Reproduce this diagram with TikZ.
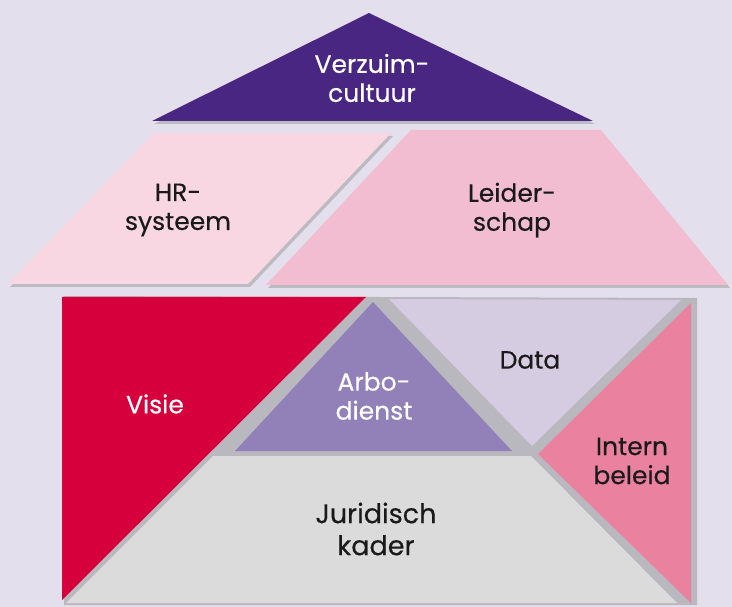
\documentclass[tikz,border=0pt]{standalone}
\usepackage{fontspec}
\setmainfont{Poppins}[FakeBold=0.4]
\usetikzlibrary{shadows}

\definecolor{bgc}{HTML}{E4DFEC}
\definecolor{gapc}{HTML}{B9B8BE}
\definecolor{vzc}{HTML}{4A2683}
\definecolor{hrc}{HTML}{F8D6E2}
\definecolor{ldc}{HTML}{F2BDD0}
\definecolor{vsc}{HTML}{D5003C}
\definecolor{abc}{HTML}{9280B9}
\definecolor{dtc}{HTML}{D5CCE2}
\definecolor{ibc}{HTML}{E9819F}
\definecolor{jkc}{HTML}{DBDBDB}
\definecolor{txc}{HTML}{1A1A1A}

\tikzset{
  lbl/.style={align=center,inner sep=0pt,text=txc,font=\fontsize{25}{29}\selectfont},
  wlbl/.style={lbl,text=white},
  piece/.style={drop shadow={shadow xshift=2pt,shadow yshift=-3pt,fill=gapc,opacity=0.9}},
}

\begin{document}
\begin{tikzpicture}[x=1pt,y=-1pt]

%BACKGROUND
\fill[bgc] (0,0) rectangle (732,607);
\useasboundingbox (0,0) rectangle (732,607);

%ROOF
\fill[vzc,piece] (369,13) -- (593,121) -- (152,121) -- cycle;
\fill[hrc,piece] (154,133) -- (391,133) -- (248,284) -- (8,284) -- cycle;
\fill[ldc,piece] (411,130) -- (601,130) -- (728,285) -- (266,285) -- cycle;

%LOWER BLOCK
\fill[gapc] (64,296) -- (697,298) -- (697,605) -- (64,605) -- cycle;
\fill[vsc] (62,297) -- (366,297) -- (62,600) -- cycle;
\fill[abc] (373,302) -- (512,451) -- (235,451) -- cycle;
\fill[dtc] (389,299) -- (681,300) -- (532,446) -- cycle;
\fill[ibc] (691,303) -- (691,603) -- (538,454) -- cycle;
\fill[jkc] (213,456) -- (531,456) -- (677,603) -- (66,603) -- cycle;

%LABELS
\node[wlbl](vz) at (372,78) {Verzuim-\\cultuur};
\node[lbl](hr) at (178,210) {HR-\\systeem};
\node[lbl](ld) at (512,210) {Leider-\\schap};
\node[wlbl](vs) at (155,404) {Visie};
\node[wlbl](ab) at (374,396) {Arbo-\\dienst};
\node[lbl](dt) at (530,360) {Data};
\node[lbl](ib) at (632,461) {Intern\\beleid};
\node[lbl,font=\fontsize{27}{32}\selectfont](jk) at (376,529) {Juridisch\\kader};

\end{tikzpicture}
\end{document}
